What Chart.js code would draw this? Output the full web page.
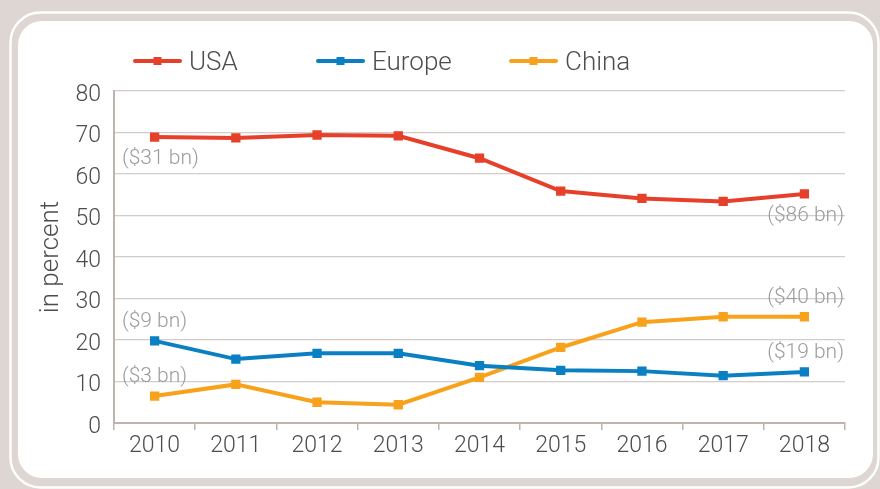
<!DOCTYPE html>
<html>
<head>
<meta charset="utf-8">
<script src="https://cdn.jsdelivr.net/npm/chart.js@4.4.1/dist/chart.umd.min.js"></script>
<style>
html,body{margin:0;padding:0;background:#ddd6d2;}
#wrap{width:880px;height:489px;position:relative;}
</style>
</head>
<body>
<div id="wrap"><canvas id="c" width="880" height="489"></canvas></div>
<script>
const years = ['2010','2011','2012','2013','2014','2015','2016','2017','2018'];
const usa    = [68.9, 68.7, 69.4, 69.2, 63.8, 55.9, 54.1, 53.4, 55.2];
const europe = [19.8, 15.4, 16.8, 16.8, 13.8, 12.7, 12.5, 11.4, 12.3];
const china  = [6.5, 9.3, 5.0, 4.4, 11.0, 18.2, 24.3, 25.6, 25.6];
const seriesNames = ['USA', 'Europe', 'China'];
const seriesColors = ['#e6402a', '#0a80c3', '#f8a21c'];
const yTicks = [0, 10, 20, 30, 40, 50, 60, 70, 80];
// annotations: [text, series index, point index, side]
const notes = [
  ['($31 bn)', 0, 0, 'below'],
  ['($86 bn)', 0, 8, 'below'],
  ['($9 bn)', 1, 0, 'above'],
  ['($19 bn)', 1, 8, 'above'],
  ['($3 bn)', 2, 0, 'above'],
  ['($40 bn)', 2, 8, 'above']
];

const FONT = 'Roboto, "DejaVu Sans", sans-serif';
const TXT = '#4d4d4d';

const panelPlugin = {
  id: 'panel',
  beforeDraw(chart) {
    const ctx = chart.ctx;
    ctx.save();
    ctx.fillStyle = '#ddd6d2';
    ctx.fillRect(0, 0, chart.width, chart.height);
    ctx.beginPath();
    ctx.roundRect(10.5, 12.5, 868, 475, 30);
    ctx.strokeStyle = '#ffffff';
    ctx.lineWidth = 2.5;
    ctx.stroke();
    ctx.beginPath();
    ctx.roundRect(18, 21, 855, 457, 24);
    ctx.fillStyle = '#ffffff';
    ctx.fill();
    ctx.restore();
  }
};

const legendPlugin = {
  id: 'customLegend',
  afterDraw(chart) {
    const ctx = chart.ctx;
    const xs = [133, 316, 509];
    const y = 61;
    ctx.save();
    chart.data.datasets.forEach((ds, i) => {
      const x = xs[i];
      ctx.strokeStyle = ds.borderColor;
      ctx.lineWidth = 4;
      ctx.lineCap = 'round';
      ctx.beginPath();
      ctx.moveTo(x + 2, y);
      ctx.lineTo(x + 47, y);
      ctx.stroke();
      ctx.fillStyle = ds.borderColor;
      ctx.fillRect(x + 20.5, y - 4, 8, 8);
      ctx.fillStyle = TXT;
      ctx.font = '300 26px ' + FONT;
      ctx.textBaseline = 'middle';
      ctx.textAlign = 'left';
      ctx.fillText(ds.label, x + 56, y + 2);
    });
    ctx.restore();
  }
};

const notePlugin = {
  id: 'notes',
  afterDatasetsDraw(chart) {
    const ctx = chart.ctx;
    const area = chart.chartArea;
    ctx.save();
    ctx.font = '300 21px ' + FONT;
    ctx.fillStyle = '#9c9c9c';
    ctx.textBaseline = 'middle';
    notes.forEach(([text, si, pi, side]) => {
      const pt = chart.getDatasetMeta(si).data[pi];
      const y = side === 'below' ? pt.y + 22 : pt.y - 19;
      if (pi === 0) {
        ctx.textAlign = 'left';
        ctx.fillText(text, area.left + 8, y);
      } else {
        ctx.textAlign = 'right';
        ctx.fillText(text, area.right - 1, y);
      }
    });
    ctx.restore();
  }
};

const datasets = [usa, europe, china].map((vals, i) => ({
  label: seriesNames[i],
  data: vals,
  borderColor: seriesColors[i],
  backgroundColor: seriesColors[i],
  borderWidth: 4,
  pointStyle: 'rect',
  pointRadius: 5.5,
  pointBorderWidth: 1.5,
  pointBackgroundColor: seriesColors[i],
  pointBorderColor: seriesColors[i],
  tension: 0,
  fill: false
}));

new Chart(document.getElementById('c'), {
  type: 'line',
  data: { labels: years, datasets: datasets },
  options: {
    responsive: false,
    animation: false,
    devicePixelRatio: 1,
    layout: { padding: { left: 0, right: 35, top: 91, bottom: 0 } },
    plugins: {
      legend: { display: false },
      tooltip: { enabled: false }
    },
    scales: {
      x: {
        offset: true,
        grid: {
          offset: true,
          drawOnChartArea: false,
          drawTicks: true,
          tickLength: 7,
          color: '#bdb4b0',
          lineWidth: 1.5
        },
        border: { display: true, color: '#bdb4b0', width: 2 },
        ticks: {
          color: TXT,
          font: { family: FONT, size: 23, weight: '300' },
          padding: 2,
          maxRotation: 0
        },
        afterFit(scale) { scale.height = 66; }
      },
      y: {
        min: 0,
        max: 80,
        afterBuildTicks(scale) { scale.ticks = yTicks.map(v => ({ value: v })); },
        grid: {
          drawTicks: false,
          color: '#d3ccc8',
          lineWidth: 1.2
        },
        border: { display: true, color: '#bdb4b0', width: 2 },
        ticks: {
          color: TXT,
          font: { family: FONT, size: 23, weight: '300' },
          padding: 13,
          labelOffset: 4
        },
        title: {
          display: true,
          text: 'in percent',
          color: TXT,
          font: { family: FONT, size: 26, weight: '300' },
          padding: { top: 36, bottom: 0 }
        },
        afterFit(scale) { scale.width = 114; }
      }
    }
  },
  plugins: [panelPlugin, legendPlugin, notePlugin]
});
</script>
</body>
</html>
